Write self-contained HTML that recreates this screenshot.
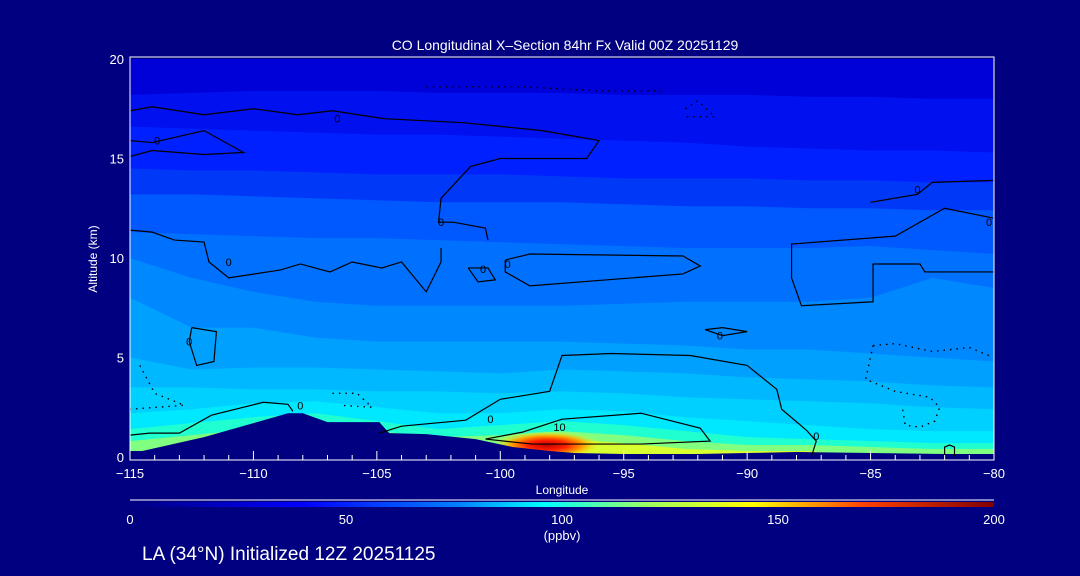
<!DOCTYPE html>
<html><head><meta charset="utf-8"><style>
html,body{margin:0;padding:0;background:#000080;width:1080px;height:576px;overflow:hidden}
svg text{font-family:"Liberation Sans",sans-serif;fill:#fff}
</style></head><body>
<svg id="chart" width="1080" height="576" xmlns="http://www.w3.org/2000/svg">
<rect width="1080" height="576" fill="#000080"/>
<text x="565" y="50" font-size="14" text-anchor="middle">CO Longitudinal X–Section 84hr  Fx Valid 00Z 20251129</text>
<g id="fills"></g>
<g id="contours"></g>
<g id="axes"></g>
<text transform="translate(97,259) rotate(-90)" font-size="12" text-anchor="middle">Altitude (km)</text>
<text x="562" y="494" font-size="12" text-anchor="middle">Longitude</text>
<defs><linearGradient id="jet" x1="0" x2="1" y1="0" y2="0">
<stop offset="0" stop-color="#000080"/><stop offset="0.2" stop-color="#0000ff"/><stop offset="0.38" stop-color="#0080ff"/><stop offset="0.48" stop-color="#00ffff"/><stop offset="0.6" stop-color="#a0ff60"/><stop offset="0.72" stop-color="#ffff00"/><stop offset="0.85" stop-color="#ff4000"/><stop offset="1" stop-color="#800000"/></linearGradient></defs>
<line x1="130" y1="500" x2="994" y2="500" stroke="#fff" stroke-width="1"/>
<rect x="130" y="502" width="864" height="5" fill="url(#jet)"/>
<g id="cbticks"></g>
<text x="562" y="540" font-size="13" text-anchor="middle">(ppbv)</text>
<text x="142" y="560" font-size="19">LA (34°N) Initialized 12Z 20251125</text>
</svg>
<script>
const lons=[-115,-112.5,-110,-107.5,-105,-102.5,-100,-97.5,-95,-92.5,-90,-87.5,-85,-82.5,-80];
const bandColors=["#0010ee","#0020ff","#0038f8","#0058ff","#0070ff","#0088ff","#00a0ff","#00b8ff","#00d0ff","#00e8ff","#20ffd0","#80ff80","#d8ff30"];
const L1=[18.2,18.3,18.4,18.4,18.4,18.3,18.3,18.3,18.2,18.2,18.2,18.1,18.1,18.0,18.0];
const L2=[16.6,16.5,16.4,16.3,16.2,16.2,16.1,16.0,15.9,15.8,15.6,15.5,15.4,15.4,15.3];
const L3=[14.5,14.4,14.4,14.3,14.2,14.2,14.2,14.1,14.0,14.0,14.0,13.9,13.9,13.8,13.8];
const L4=[13.2,13.2,13.1,13.0,12.9,12.8,12.8,12.8,12.7,12.6,12.6,12.5,12.5,12.4,12.4];
const L5=[11.3,11.2,11.1,11.0,11.0,10.9,10.8,10.7,10.6,10.5,10.5,10.5,10.6,10.4,10.2];
const L6=[10.0,9.0,8.3,7.8,7.6,7.6,7.6,7.6,7.7,7.8,7.8,7.8,8.0,9.0,8.5];
const L7=[8.0,6.5,6.5,6.0,5.8,5.8,5.8,5.8,5.7,5.6,5.4,5.4,5.2,5.0,4.8];
const L8=[5.0,4.4,4.5,4.5,4.4,4.3,4.2,4.4,4.3,4.2,4.0,3.9,3.8,3.6,3.5];
const L9=[3.5,3.5,3.4,3.4,3.3,3.3,3.2,3.3,3.2,3.0,2.9,2.8,2.7,2.5,2.4];
const L10=[2.2,2.4,2.7,2.8,2.5,2.2,2.2,2.4,2.3,2.0,1.8,1.6,1.4,1.3,1.3];
const L11=[1.4,1.7,2.0,2.2,1.8,1.4,1.6,1.8,1.6,1.3,1.0,0.9,0.8,0.7,0.7];
const L12=[0.8,1.1,1.4,1.5,1.3,1.0,1.1,1.3,1.1,0.8,0.6,0.6,0.5,0.4,0.4];
const L13=[0,0,0,0,0,0,0.5,0.9,0.7,0.4,0.3,0.3,0,0,0];
const terrLon=[-115,-114.5,-112,-110,-108.6,-108,-107,-104.9,-104.5,-103,-101,-99.5,-98,-97,-95,-92,-90,-88,-85,-82,-80];
const terrAlt=[0.3,0.3,1.0,1.7,2.2,2.2,1.75,1.75,1.2,1.15,0.9,0.5,0.3,0.2,0.15,0.15,0.2,0.25,0.2,0.15,0.15];
const hotLon=-98.1, hotAlt=0.6;
const xTicks=[-115,-110,-105,-100,-95,-90,-85,-80];
const yTicks=[0,5,10,15,20];
const cbTicks=[0,50,100,150,200];
const labelLon=[-113.9,-106.6,-102.4,-100.7,-99.7,-111,-112.6,-91.1,-108.1,-100.4,-97.6,-87.2,-83.1,-80.2];
const labelAlt=[15.9,17.0,11.8,9.45,9.7,9.8,5.8,6.1,2.6,1.9,1.5,1.05,13.45,11.8];
const labelText=["0","0","0","0","0","0","0","0","0","0","10","0","0","0"];
const solidContours=[
 [[-115,17.4],[-114.1,17.6],[-112,17.2],[-110,17.5],[-108.2,17.2],[-106.8,17.4],[-104.7,17.0],[-101.5,16.8],[-98.3,16.4],[-96,15.9],[-96.5,15.0],[-100,15.0],[-101.2,14.6],[-102.4,13.0],[-102.5,11.8],[-101.9,11.8],[-100.6,11.5],[-100.5,10.9]],
 [[-115,15.9],[-114.1,15.8],[-112,16.4],[-110.4,15.3],[-112,15.2],[-114.1,15.4],[-115,15.1]],
 [[-115,11.4],[-114.1,11.3],[-113.2,10.9],[-112,10.8],[-111.8,9.8],[-111,9.0],[-108.9,9.4],[-108.1,9.7],[-106.9,9.3],[-106,9.8],[-104.8,9.5],[-104,9.8],[-103,8.3],[-102.4,9.8],[-102.4,10.5]],
 [[-99.8,9.9],[-98.8,10.2],[-92.6,10.1],[-91.9,9.6],[-92.6,9.2],[-98.8,8.6],[-99.8,9.3],[-99.8,9.9]],
 [[-101.3,9.5],[-100.5,9.5],[-100.2,8.9],[-100.9,8.8],[-101.3,9.5]],
 [[-115,1.1],[-114.2,1.2],[-113,1.2],[-111.7,2.1],[-109.6,2.75],[-108.6,2.65],[-108.4,2.3]],
 [[-104.9,1.2],[-104,1.55],[-101.4,1.85],[-100,2.9],[-98,3.3],[-97.5,5.1],[-95.5,5.2],[-92.3,5.1],[-90,4.6],[-88.8,3.4],[-88.6,2.4],[-87.6,1.35],[-87.2,0.8],[-87.4,0]],
 [[-100.6,0.9],[-99.1,1.25],[-97.5,1.9],[-94.3,2.2],[-91.9,1.45],[-91.5,0.8],[-94.3,0.65],[-98.7,0.65],[-100.6,0.9]],
 [[-112.5,6.5],[-111.5,6.3],[-111.6,4.8],[-112.3,4.6],[-112.6,5.8],[-112.5,6.5]],
 [[-91.7,6.4],[-91,6.5],[-90,6.3],[-91,6.1],[-91.7,6.4]],
 [[-115,17.3],[-115,20]],
 [[-80,12.0],[-82,12.5],[-84,11.1],[-88.2,10.7],[-88.2,9.0],[-87.8,7.6],[-84.9,7.8],[-84.9,9.7],[-83,9.7],[-82.8,9.3],[-80,9.3]],
 [[-80,13.9],[-82.5,13.8],[-83.1,13.2],[-85,12.8]],
 [[-82,0.05],[-82,0.5],[-81.8,0.6],[-81.6,0.5],[-81.6,0.05]]
];
const dottedContours=[
 [[-84.9,5.6],[-84,5.7],[-82.5,5.3],[-81,5.5],[-80,5.0]],
 [[-84.9,5.6],[-85.2,3.9],[-84,3.3],[-82.6,3.0],[-82.2,2.5],[-82.4,1.8],[-83,1.5],[-83.6,1.6],[-83.7,2.4]],
 [[-106.8,3.2],[-105.8,3.2],[-105.2,2.5],[-106.5,2.6]],
 [[-103,18.6],[-101.5,18.6],[-99,18.6],[-96,18.4],[-93.5,18.4]],
 [[-92.5,17.5],[-92,17.9],[-91.3,17.1],[-92.5,17.1]],
 [[-114.6,4.6],[-114,3.2],[-112.8,2.6],[-115,2.4]]
];
const X0=130,X1=994,Y0=457,PXKM=19.9;
const xs=l=>X0+(l+115)/35*(X1-X0);
const ys=a=>Y0-a*PXKM;
const NS="http://www.w3.org/2000/svg";
function mk(t,at,parent){const e=document.createElementNS(NS,t);for(const k in at)e.setAttribute(k,at[k]);parent.appendChild(e);return e;}
const fills=document.getElementById('fills');
const bg=mk('rect',{x:X0,y:ys(20),width:X1-X0,height:Y0-ys(20),fill:'#0000d8'},fills);


const levels=[L1,L2,L3,L4,L5,L6,L7,L8,L9,L10,L11,L12,L13];
levels.forEach((lv,i)=>{
  let d='M'+xs(lons[0])+','+ys(0);
  lons.forEach((l,j)=>{d+=' L'+xs(l)+','+ys(lv[j]);});
  d+=' L'+xs(lons[lons.length-1])+','+ys(0)+'Z';
  const p=mk('path',{d:d,fill:bandColors[i]},fills);
  
  
});
const defs=document.querySelector('defs');
const rg=mk('radialGradient',{id:'hot'},defs);
mk('stop',{offset:'0','stop-color':'#c00000'},rg);
mk('stop',{offset:'0.35','stop-color':'#ff2000'},rg);
mk('stop',{offset:'0.65','stop-color':'#ffa000'},rg);
mk('stop',{offset:'1','stop-color':'#f0ff20','stop-opacity':'0'},rg);
const hot=mk('ellipse',{cx:xs(hotLon),cy:ys(hotAlt),rx:55,ry:14,fill:'url(#hot)'},fills);


let td='M'+xs(terrLon[0])+','+ys(0);
terrLon.forEach((l,j)=>{td+=' L'+xs(l)+','+ys(terrAlt[j]);});
td+=' L'+X1+','+ys(0)+' L'+X1+','+(Y0+3)+' L'+X0+','+(Y0+3)+'Z';
const terr=mk('path',{d:td,fill:'#000080'},fills);


const cg=document.getElementById('contours');
solidContours.forEach((c,i)=>{
  const p=mk('polyline',{points:c.map(q=>xs(q[0])+','+ys(q[1])).join(' '),fill:'none',stroke:'#000','stroke-width':1.2},cg);
  
  
});
dottedContours.forEach((c,i)=>{
  const p=mk('polyline',{points:c.map(q=>xs(q[0])+','+ys(q[1])).join(' '),fill:'none',stroke:'#000','stroke-width':1.4,'stroke-dasharray':'1.5 5'},cg);
  
  
});
labelLon.forEach((l,i)=>{
  const t=mk('text',{x:xs(l),y:ys(labelAlt[i])+4,'font-size':11,'text-anchor':'middle',style:'fill:#000'},cg);
  t.textContent=labelText[i];
  
  
});
const ax=document.getElementById('axes');
const frame=mk('rect',{x:X0,y:ys(20)-2,width:X1-X0,height:Y0+3-ys(20)+2,fill:'none',stroke:'#fff','stroke-width':1},ax);


for(let l=-115;l<=-80;l++){
  const major=(l%5===0);
  const t=mk('line',{x1:xs(l),x2:xs(l),y1:Y0+3,y2:Y0+3-(major?9:5),stroke:'#fff'},ax);
  
  
}
xTicks.forEach(l=>{
  const t=mk('text',{x:xs(l),y:478,'font-size':13,'text-anchor':'middle'},ax);
  t.textContent=(l<0?'−':'')+Math.abs(l);
  
  
});
yTicks.forEach(a=>{
  const t=mk('text',{x:124,y:ys(a)+5,'font-size':13,'text-anchor':'end'},ax);
  t.textContent=a;
  
  
});
const cbg=document.getElementById('cbticks');
cbTicks.forEach(v=>{
  const t=mk('text',{x:X0+v/200*(X1-X0),y:524,'font-size':13,'text-anchor':'middle'},cbg);
  t.textContent=v;
  
  
});
</script>
</body></html>
